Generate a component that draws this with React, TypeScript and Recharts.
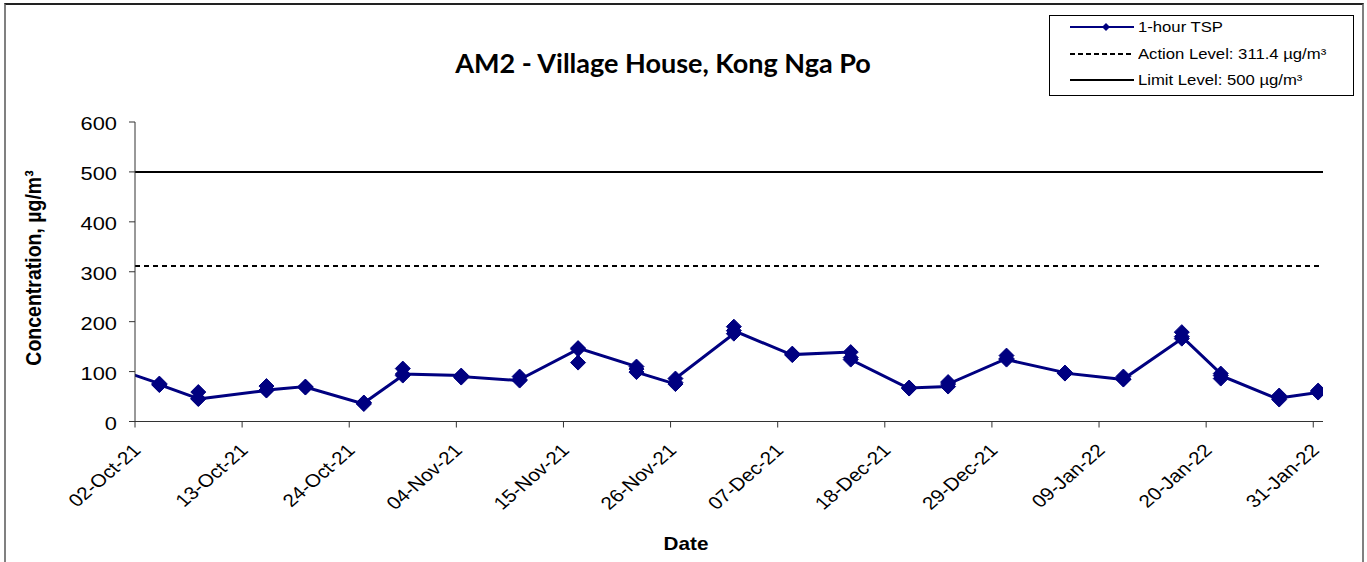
import React from 'react';
import { LineChart, Line, XAxis, YAxis, ReferenceLine } from 'recharts';

// monitoring dates (readings taken around midday) and the 1-hour TSP results
const sampleDates = [
  '2021-09-28', '2021-10-04', '2021-10-08', '2021-10-15', '2021-10-19', '2021-10-25',
  '2021-10-29', '2021-11-04', '2021-11-10', '2021-11-16', '2021-11-22', '2021-11-26',
  '2021-12-02', '2021-12-08', '2021-12-14', '2021-12-20', '2021-12-24', '2021-12-30',
  '2022-01-05', '2022-01-11', '2022-01-17', '2022-01-21', '2022-01-27', '2022-01-31',
];
const tspReadings = [
  [116], [76, 73, 74], [46, 59, 45], [62, 71, 63], [70, 68, 69], [35, 38, 37],
  [92, 106, 95], [92, 88, 90], [82, 90, 84], [145, 118, 147], [110, 105, 99], [75, 78, 86],
  [176, 190, 182], [133, 136, 134], [139, 128, 124], [66, 68, 67], [70, 79, 75], [126, 132, 124],
  [98, 96, 97], [84, 90, 85], [166, 179, 170], [96, 86, 92], [44, 52, 47], [58, 62, 60],
];
const tickDates = [
  '2021-10-02', '2021-10-13', '2021-10-24', '2021-11-04', '2021-11-15', '2021-11-26',
  '2021-12-07', '2021-12-18', '2021-12-29', '2022-01-09', '2022-01-20', '2022-01-31',
];
const axisStart = '2021-10-02';
const axisEnd = '2022-02-01';
const yTicks = [0, 100, 200, 300, 400, 500, 600];
const ACTION_LEVEL = 311.4;
const LIMIT_LEVEL = 500;

const MONTHS = ['Jan', 'Feb', 'Mar', 'Apr', 'May', 'Jun', 'Jul', 'Aug', 'Sep', 'Oct', 'Nov', 'Dec'];
const toTime = (d: string, hour = 0) => Date.parse(d + 'T00:00:00Z') + hour * 3600000;
const fmtDate = (t: number) => {
  const d = new Date(t);
  const dd = String(d.getUTCDate()).padStart(2, '0');
  return `${dd}-${MONTHS[d.getUTCMonth()]}-${String(d.getUTCFullYear()).slice(2)}`;
};

const data = sampleDates.flatMap((d, i) =>
  tspReadings[i].map((v) => ({ t: toTime(d, 12), tsp: v }))
);

const NAVY = '#000080';
const SX = 1.15; // the original text is a bit wide
const FONT = '"Liberation Sans", Arial, sans-serif';

const Diamond = (props: any) => {
  const { cx, cy } = props;
  if (cx == null || cy == null) return null;
  const r = 7.5;
  return (
    <polygon
      points={`${cx},${cy - r} ${cx + r},${cy} ${cx},${cy + r} ${cx - r},${cy}`}
      fill={NAVY}
      stroke={NAVY}
      strokeWidth={1}
    />
  );
};

const XTick = ({ x, y, payload }: any) => (
  <g transform={`translate(${x + 7},${y + 24}) scale(${SX},1) rotate(-45)`}>
    <text textAnchor="end" fontFamily={FONT} fontSize={18} fill="#000">
      {fmtDate(payload.value)}
    </text>
  </g>
);

const YTick = ({ x, y, payload }: any) => (
  <g transform={`translate(${x},${y}) scale(${SX},1)`}>
    <text textAnchor="end" dominantBaseline="central" dy={1.5} fontFamily={FONT} fontSize={19} fill="#000">
      {payload.value}
    </text>
  </g>
);

const legendItems = [
  { label: '1-hour TSP', color: NAVY, dash: undefined, marker: true },
  { label: 'Action Level: 311.4 µg/m³', color: '#000', dash: '5 3', marker: false },
  { label: 'Limit Level: 500 µg/m³', color: '#000', dash: undefined, marker: false },
];

export default function App() {
  return (
    <div style={{ position: 'absolute', left: 0, top: 0, width: 1367, height: 562, background: '#fff', overflow: 'hidden' }}>
      <div
        style={{
          position: 'absolute', left: 4, top: 3, width: 1356, height: 620,
          borderTop: '2px solid #222', borderLeft: '2px solid #808080', borderRight: '2px solid #808080',
        }}
      />
      <div style={{ position: 'absolute', left: 0, top: 0 }}>
        <LineChart width={1367} height={562} data={data} margin={{ top: 122, right: 44, left: 0, bottom: 0 }}>
          <XAxis
            dataKey="t"
            type="number"
            domain={[toTime(axisStart), toTime(axisEnd)]}
            allowDataOverflow
            ticks={tickDates.map((d) => toTime(d))}
            tick={<XTick />}
            tickSize={6}
            tickMargin={0}
            height={140.5}
            stroke="#333"
            interval={0}
          />
          <YAxis
            domain={[0, 600]}
            ticks={yTicks}
            tick={<YTick />}
            tickSize={6}
            tickMargin={12}
            width={135}
            stroke="#333"
            allowDataOverflow
          />
          <ReferenceLine y={LIMIT_LEVEL} stroke="#000" strokeWidth={2} />
          <ReferenceLine y={ACTION_LEVEL} stroke="#000" strokeWidth={2} strokeDasharray="5 4" />
          <Line
            dataKey="tsp"
            stroke={NAVY}
            strokeWidth={3}
            dot={<Diamond />}
            activeDot={false}
            isAnimationActive={false}
          />
        </LineChart>
      </div>

      <svg width={1367} height={562} style={{ position: 'absolute', left: 0, top: 0, pointerEvents: 'none' }}>
        <text x={663} y={73} textAnchor="middle" fontFamily="Lato, 'Open Sans', sans-serif" fontWeight="bold" fontSize={27} fill="#000">
          AM2 - Village House, Kong Nga Po
        </text>
        <g transform={`translate(33,268) scale(${SX},1) rotate(-90)`}>
          <text textAnchor="middle" dominantBaseline="central" fontFamily={FONT} fontWeight="bold" fontSize={19.5} fill="#000">
            Concentration, µg/m³
          </text>
        </g>
        <g transform={`translate(686,550) scale(${SX},1)`}>
          <text textAnchor="middle" fontFamily={FONT} fontWeight="bold" fontSize={18} fill="#000">
            Date
          </text>
        </g>
      </svg>

      <div
        style={{
          position: 'absolute', left: 1049, top: 15, width: 303, height: 79,
          border: '1px solid #000', background: '#fff', fontFamily: FONT,
        }}
      >
        {legendItems.map((item, i) => (
          <div key={item.label} style={{ position: 'absolute', left: 0, top: 1 + i * 26.5, height: 20, width: 303 }}>
            <svg width={70} height={20} style={{ position: 'absolute', left: 20, top: 0 }}>
              <line x1={0} y1={10} x2={64} y2={10} stroke={item.color} strokeWidth={2} strokeDasharray={item.dash} />
              {item.marker && <polygon points="36,6 40,10 36,14 32,10" fill={item.color} />}
            </svg>
            <span
              style={{
                position: 'absolute', left: 88, top: 1, fontSize: 14.5, lineHeight: '18px', whiteSpace: 'nowrap',
                transform: `scaleX(${SX})`, transformOrigin: 'left center', color: '#000',
              }}
            >
              {item.label}
            </span>
          </div>
        ))}
      </div>
    </div>
  );
}
